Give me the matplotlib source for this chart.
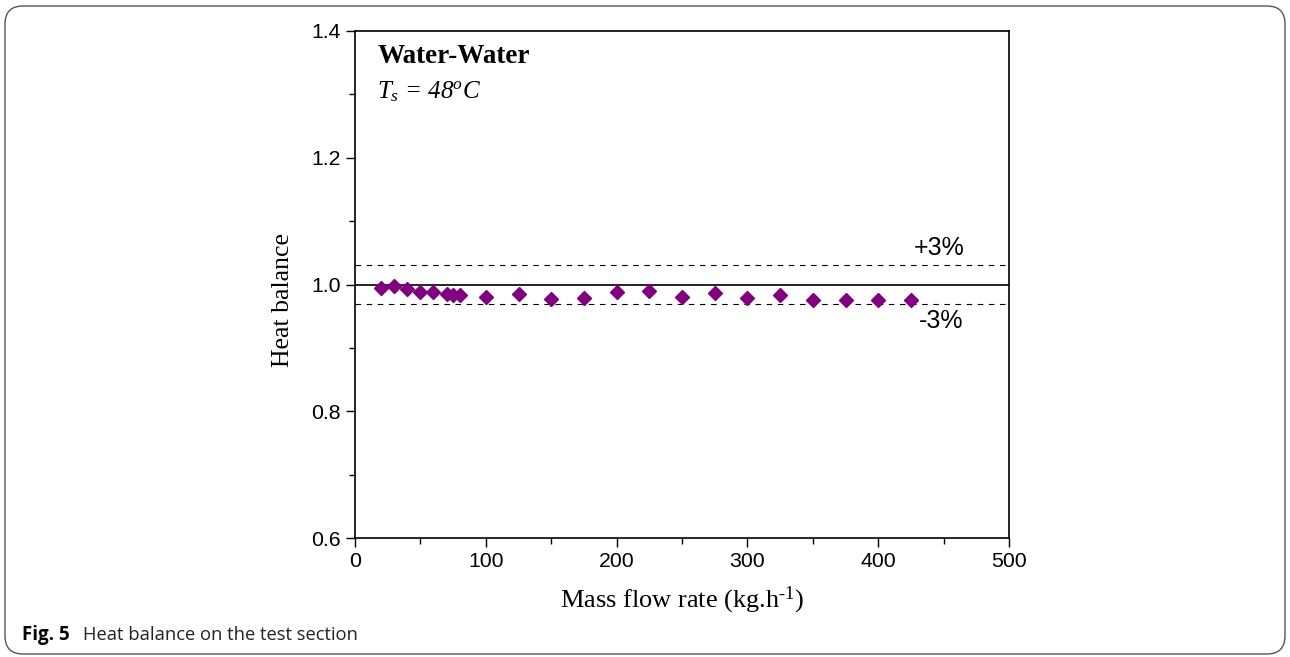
import matplotlib
matplotlib.use("Agg")
import matplotlib.pyplot as plt
from matplotlib.patches import FancyBboxPatch
from matplotlib.ticker import MultipleLocator

mass_flow = [20, 30, 40, 50, 60, 70, 75, 80, 100, 125, 150, 175, 200, 225,
             250, 275, 300, 325, 350, 375, 400, 425]
heat_balance = [0.994, 0.998, 0.993, 0.988, 0.988, 0.985, 0.984, 0.983, 0.981,
                0.985, 0.977, 0.979, 0.988, 0.989, 0.981, 0.986, 0.979, 0.984,
                0.975, 0.976, 0.976, 0.975]
ref_line = 1.0
band_upper = 1.03
band_lower = 0.97
x_ticks = [0, 100, 200, 300, 400, 500]
y_ticks = [0.6, 0.8, 1.0, 1.2, 1.4]

plt.rcParams["mathtext.fontset"] = "custom"
plt.rcParams["mathtext.rm"] = "Liberation Serif"
plt.rcParams["mathtext.it"] = "Liberation Serif:italic"
plt.rcParams["mathtext.sf"] = "Liberation Serif:italic"

W, H = 1290, 657
fig = plt.figure(figsize=(W / 100, H / 100), dpi=100)

# outer rounded frame
frame = FancyBboxPatch((5 / W, 1 - 654 / H), (1285 - 5) / W, (654 - 6) / H,
                       boxstyle="round,pad=0,rounding_size=0.014",
                       transform=fig.transFigure, fill=False,
                       edgecolor="#555555", linewidth=1.0,
                       mutation_aspect=W / H)
fig.patches.append(frame)

ax = fig.add_axes([355 / W, 1 - 538 / H, (1009 - 355) / W, (538 - 31) / H])

ax.plot(mass_flow, heat_balance, linestyle="none", marker="D",
        markersize=7, color="#800080", zorder=5)
ax.axhline(ref_line, color="black", linewidth=1.2, zorder=3)
ax.axhline(band_upper, color="black", linewidth=0.8, linestyle=(0, (5, 5)), zorder=3)
ax.axhline(band_lower, color="black", linewidth=0.8, linestyle=(0, (5, 5)), zorder=3)

ax.set_xlim(0, 500)
ax.set_ylim(0.6, 1.4)
ax.set_xticks(x_ticks)
ax.set_xticklabels([str(v) for v in x_ticks])
ax.set_yticks(y_ticks)
ax.set_yticklabels([f"{v:.1f}" for v in y_ticks])
ax.xaxis.set_minor_locator(MultipleLocator(50))
ax.yaxis.set_minor_locator(MultipleLocator(0.1))
ax.tick_params(which="both", direction="out", top=False, right=False,
               width=1.0, labelsize=15.3)
ax.tick_params(which="major", length=6.5)
ax.tick_params(which="minor", length=4)
for lab in ax.get_xticklabels() + ax.get_yticklabels():
    lab.set_fontfamily("Liberation Sans")
for s in ax.spines.values():
    s.set_linewidth(1.2)

ax.set_xlabel(r"Mass flow rate (kg.h$^{\text{-1}}$)", fontsize=19,
              family="Liberation Serif", labelpad=10)
ax.set_ylabel("Heat balance", fontsize=18.5, family="Liberation Serif")
ax.yaxis.set_label_coords(-0.093, 0.469)

ax.text(0.034, 0.949, "Water-Water", transform=ax.transAxes, fontsize=19.5,
        family="Liberation Serif", fontweight="bold", va="center", ha="left")
ax.text(0.034, 0.88, r"$\mathit{T_{s}}$ = $\mathsf{48^{o}C}$", transform=ax.transAxes,
        fontsize=18, family="Liberation Serif", style="italic",
        va="center", ha="left")
ax.text(0.893, 0.572, "+3%", transform=ax.transAxes, fontsize=18,
        family="Liberation Sans", va="center", ha="center")
ax.text(0.896, 0.428, "-3%", transform=ax.transAxes, fontsize=18,
        family="Liberation Sans", va="center", ha="center")

fig.text(22 / W, 1 - 635 / H, "Fig. 5", fontsize=13.5, family="Open Sans",
         fontweight="bold", va="center", ha="left")
fig.text(83 / W, 1 - 635 / H, "Heat balance on the test section", fontsize=13.2,
         family="Open Sans", va="center", ha="left", color="#222222")

fig.savefig("out.png", dpi=100)
